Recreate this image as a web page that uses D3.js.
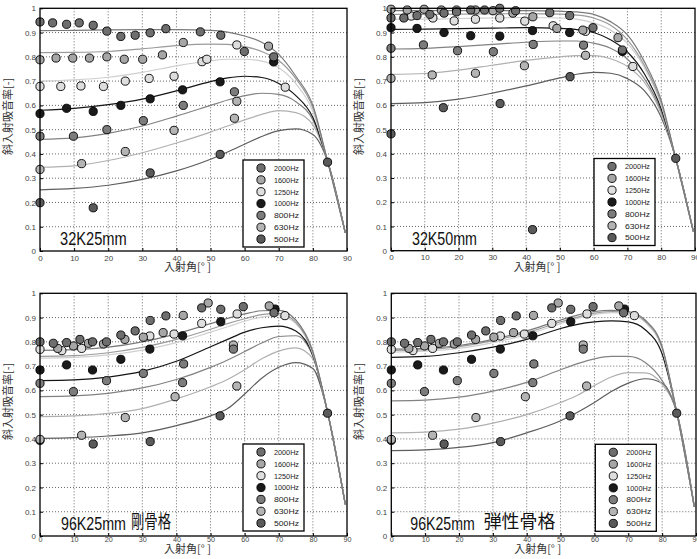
<!DOCTYPE html>
<html><head><meta charset="utf-8">
<script src="https://cdn.jsdelivr.net/npm/d3@7"></script>
<style>body{margin:0;background:#fff}svg{display:block}</style>
</head><body>
<svg id="c" width="697" height="559"></svg>
<script>
const freqs = ["2000Hz","1600Hz","1250Hz","1000Hz","800Hz","630Hz","500Hz"];
const xTicks = [0,10,20,30,40,50,60,70,80,90];
const yTicks = [0,0.1,0.2,0.3,0.4,0.5,0.6,0.7,0.8,0.9,1];
const titles = ["32K25mm","32K50mm","96K25mm 剛骨格","96K25mm 弾性骨格"];
const curveAngles = [0,10,20,30,40,50,55,60,65,70,75,80,84.3,89.5];

// model curves (value at each curveAngles entry), order = freqs
const curves32K25 = [
 [0.908,0.909,0.911,0.912,0.912,0.909,0.902,0.886,0.86,0.81,0.72,0.60,0.37,0.075],
 [0.817,0.818,0.822,0.833,0.846,0.852,0.851,0.842,0.822,0.785,0.71,0.59,0.37,0.075],
 [0.70,0.705,0.716,0.736,0.763,0.784,0.79,0.79,0.782,0.755,0.69,0.575,0.37,0.075],
 [0.58,0.588,0.603,0.626,0.66,0.698,0.713,0.72,0.715,0.69,0.64,0.55,0.37,0.075],
 [0.46,0.466,0.485,0.515,0.556,0.60,0.622,0.64,0.65,0.645,0.615,0.54,0.37,0.075],
 [0.345,0.351,0.373,0.405,0.445,0.49,0.515,0.54,0.563,0.578,0.57,0.52,0.37,0.075],
 [0.252,0.258,0.271,0.295,0.33,0.378,0.408,0.44,0.472,0.496,0.503,0.48,0.37,0.075]
];
const curves32K50 = [
 [0.99,0.99,0.99,0.99,0.99,0.988,0.985,0.975,0.945,0.89,0.78,0.62,0.38,0.08],
 [0.975,0.975,0.976,0.977,0.978,0.976,0.972,0.96,0.93,0.87,0.765,0.61,0.38,0.08],
 [0.955,0.955,0.958,0.96,0.962,0.96,0.955,0.94,0.91,0.855,0.755,0.60,0.38,0.08],
 [0.913,0.914,0.916,0.918,0.92,0.917,0.912,0.9,0.87,0.82,0.73,0.585,0.38,0.08],
 [0.832,0.835,0.842,0.851,0.86,0.865,0.865,0.856,0.835,0.79,0.71,0.575,0.38,0.08],
 [0.727,0.731,0.745,0.765,0.785,0.80,0.805,0.805,0.792,0.76,0.695,0.565,0.38,0.08],
 [0.607,0.611,0.625,0.65,0.68,0.713,0.728,0.736,0.732,0.71,0.66,0.55,0.38,0.08]
];
const curves96K25rigid = [
 [0.765,0.768,0.778,0.80,0.833,0.875,0.897,0.915,0.928,0.93,0.89,0.76,0.51,0.13],
 [0.74,0.743,0.755,0.777,0.81,0.852,0.875,0.895,0.912,0.917,0.88,0.755,0.51,0.13],
 [0.733,0.736,0.746,0.766,0.797,0.84,0.862,0.885,0.902,0.908,0.875,0.75,0.51,0.13],
 [0.64,0.643,0.655,0.678,0.72,0.78,0.81,0.84,0.858,0.865,0.845,0.745,0.51,0.13],
 [0.574,0.577,0.588,0.61,0.645,0.695,0.725,0.76,0.795,0.822,0.825,0.74,0.51,0.13],
 [0.492,0.495,0.505,0.525,0.565,0.615,0.645,0.685,0.73,0.762,0.775,0.73,0.51,0.13],
 [0.402,0.405,0.412,0.425,0.455,0.495,0.525,0.585,0.65,0.695,0.714,0.69,0.51,0.13]
];
const curves96K25elastic = [
 [0.77,0.773,0.785,0.81,0.845,0.89,0.91,0.925,0.93,0.925,0.89,0.78,0.51,0.12],
 [0.765,0.768,0.78,0.805,0.838,0.882,0.902,0.918,0.925,0.92,0.885,0.775,0.51,0.12],
 [0.758,0.762,0.773,0.797,0.83,0.875,0.897,0.912,0.92,0.915,0.88,0.77,0.51,0.12],
 [0.736,0.74,0.755,0.778,0.81,0.855,0.872,0.882,0.886,0.882,0.85,0.75,0.51,0.12],
 [0.557,0.56,0.572,0.597,0.633,0.685,0.71,0.73,0.74,0.74,0.715,0.64,0.51,0.12],
 [0.425,0.428,0.44,0.465,0.50,0.55,0.58,0.62,0.655,0.673,0.672,0.625,0.51,0.12],
 [0.352,0.355,0.365,0.385,0.425,0.475,0.51,0.55,0.595,0.63,0.648,0.63,0.51,0.12]
];

// measured points [angle, value], order = freqs
const pts32K25 = [
 [[0,0.944],[3.7,0.94],[7.8,0.934],[11.5,0.94],[15.6,0.93],[19.6,0.906],[23.7,0.884],[27.9,0.889],[32.3,0.899],[36.9,0.916],[47,0.903],[53,0.889],[59.9,0.822],[68.5,0.80]],
 [[0,0.788],[4.7,0.795],[9.6,0.795],[14.5,0.795],[19.6,0.80],[24.7,0.79],[30.1,0.79],[35.9,0.808],[42,0.859],[67,0.844]],
 [[0,0.678],[6.1,0.678],[12,0.68],[18.6,0.678],[25,0.70],[32,0.711],[39.3,0.72],[47.5,0.78],[48.9,0.79],[57.7,0.849],[71.9,0.675]],
 [[0,0.566],[7.8,0.588],[15.6,0.575],[23.7,0.60],[32.3,0.627],[41.8,0.664],[52.8,0.697],[68.5,0.779]],
 [[0,0.473],[9.8,0.473],[19.6,0.50],[30.3,0.537],[42,0.60],[57,0.656]],
 [[0,0.336],[12.2,0.36],[25,0.41],[39.3,0.497],[57,0.547],[57.7,0.617]],
 [[0,0.199],[15.6,0.178],[32.3,0.322],[52.8,0.398],[84.3,0.366]]
];
const pts32K50 = [
 [[0,0.96],[3.8,0.96],[7.7,0.97],[11.5,0.975],[15.7,0.98],[19.4,0.985],[23.6,0.993],[27.7,0.993],[32.2,1.0],[36.9,0.99],[47,0.982],[52.9,0.97],[59.8,0.92],[68.5,0.828]],
 [[0,0.996],[4.8,0.993],[9.8,0.996],[14.9,0.993],[19.4,0.993],[25,0.993],[30.2,0.99],[36.1,0.98],[42,0.965],[49.1,0.917],[56.8,0.91],[67.2,0.879]],
 [[6,0.968],[12.4,0.96],[18.7,0.948],[25,0.955],[32.2,0.96],[39.6,0.947],[48,0.928],[57.6,0.905],[71.6,0.76]],
 [[0,0.92],[7.7,0.917],[15.7,0.9],[23.6,0.887],[32.2,0.885],[41.9,0.908],[52.9,0.9],[68.5,0.822]],
 [[0,0.835],[9.6,0.849],[19.7,0.825],[30.3,0.821],[42.1,0.851],[57,0.848]],
 [[0,0.711],[12.2,0.725],[25,0.732],[39.5,0.763],[57.6,0.806]],
 [[0,0.482],[15.5,0.59],[32.3,0.607],[41.9,0.087],[53,0.718],[84.3,0.381]]
];
const pts96K25 = [
 [[0,0.80],[3.9,0.794],[7.8,0.797],[11.7,0.81],[15.4,0.80],[19.5,0.80],[23.7,0.828],[27.9,0.845],[32.3,0.888],[36.9,0.907],[47.4,0.94],[53,0.934],[59.6,0.945],[68.6,0.92]],
 [[5.2,0.773],[9.8,0.783],[14.2,0.794],[18.6,0.791],[24.9,0.81],[30.3,0.819],[36.1,0.838],[42,0.909],[49.3,0.96],[67.2,0.948]],
 [[0,0.769],[6.4,0.764],[12.2,0.773],[32.2,0.824],[39.3,0.832],[47.4,0.876],[57.8,0.915],[71.8,0.908]],
 [[0,0.684],[7.8,0.705],[15.4,0.684],[23.7,0.728],[32.2,0.77],[41.8,0.825],[53,0.883],[68.9,0.935]],
 [[0,0.629],[9.8,0.595],[19.5,0.64],[30.3,0.67],[42.1,0.709],[41.8,0.632],[56.7,0.77]],
 [[0,0.398],[12.2,0.415],[25,0.488],[39.6,0.574],[56.7,0.787],[57.7,0.618]],
 [[0,0.394],[15.6,0.379],[32.3,0.389],[52.8,0.495],[84.3,0.506]]
];

const markerFill = ["#6e6e6e","#a6a6a6","#dedede","#1a1a1a","#7c7c7c","#b4b4b4","#5a5a5a"];
const lineColor  = ["#7a7a7a","#9a9a9a","#cfcfcf","#151515","#828282","#b0b0b0","#5e5e5e"];

const panels = [
 {title:titles[0], curves:curves32K25, pts:pts32K25, l:40, r:347, t:8.3, b:251, lx:243, ly:160, yl:12, xly:271, tp:4, tf:8,
  tx:[60,66.7], cjk:null},
 {title:titles[1], curves:curves32K50, pts:pts32K50, l:391, r:695, t:8.3, b:250.7, lx:594, ly:158.5, yl:363, xly:271, tp:4, tf:8,
  tx:[412,65], cjk:null},
 {title:titles[2], curves:curves96K25rigid, pts:pts96K25, l:40, r:347, t:293.3, b:536, lx:243, ly:444, yl:12, xly:553, tp:1.2, tf:7.2,
  tx:[61,65], cjk:[131,40]},
 {title:titles[3], curves:curves96K25elastic, pts:pts96K25, l:391.3, r:696, t:293.3, b:536, lx:595.3, ly:444.3, yl:363, xly:553, tp:1.2, tf:7.2,
  tx:[410.3,64.4], cjk:[483.7,71.6]}
];

const svg = d3.select("#c");
const latin = "'Liberation Sans', Arial, sans-serif";
const cjkFont = "'Noto Sans CJK JP', sans-serif";

panels.forEach((p, pi) => {
  const x = d3.scaleLinear().domain([0,90]).range([p.l,p.r]);
  const y = d3.scaleLinear().domain([0,1]).range([p.b,p.t]);
  const g = svg.append("g");

  // grid
  g.selectAll(".gx").data(xTicks.slice(1,-1)).join("line")
    .attr("x1",d=>x(d)).attr("x2",d=>x(d)).attr("y1",p.t).attr("y2",p.b)
    .attr("stroke","#444").attr("stroke-width",0.8).attr("stroke-dasharray","1,2");
  g.selectAll(".gy").data(yTicks.slice(1,-1)).join("line")
    .attr("y1",d=>y(d)).attr("y2",d=>y(d)).attr("x1",p.l).attr("x2",p.r)
    .attr("stroke","#444").attr("stroke-width",0.8).attr("stroke-dasharray","1,2");

  // axes
  const ax = g.append("g").attr("transform",`translate(0,${p.b})`)
    .call(d3.axisBottom(x).tickValues(xTicks).tickSize(-3).tickPadding(p.tp).tickFormat(d3.format("d")));
  ax.select(".domain").remove();
  ax.selectAll("line").attr("stroke","#000");
  ax.selectAll("text").attr("font-size",p.tf).attr("fill","#444").attr("font-family",latin);
  const ay = g.append("g").attr("transform",`translate(${p.l},0)`)
    .call(d3.axisLeft(y).tickValues(yTicks).tickSize(-3).tickPadding(4).tickFormat(d=>String(+d.toFixed(1))));
  ay.select(".domain").remove();
  ay.selectAll("line").attr("stroke","#000");
  ay.selectAll("text").attr("font-size",8).attr("fill","#444").attr("font-family",latin);

  // curves
  const clipId = "clip"+pi;
  g.append("clipPath").attr("id",clipId).append("rect")
    .attr("x",p.l).attr("y",p.t).attr("width",p.r-p.l).attr("height",p.b-p.t);
  const line = d3.line().x(d=>x(d[0])).y(d=>y(d[1])).curve(d3.curveMonotoneX);
  const cg = g.append("g").attr("clip-path",`url(#${clipId})`);
  for (let i = freqs.length-1; i >= 0; i--) {
    const data = curveAngles.map((a,k)=>[a,p.curves[i][k]]);
    cg.append("path").datum(data).attr("d",line).attr("fill","none")
      .attr("stroke",lineColor[i]).attr("stroke-width",1.2);
  }
  // points
  for (let i = freqs.length-1; i >= 0; i--) {
    g.append("g").selectAll("circle").data(p.pts[i]).join("circle")
      .attr("cx",d=>x(d[0])).attr("cy",d=>y(d[1])).attr("r",4.1)
      .attr("fill",markerFill[i]).attr("stroke","#000").attr("stroke-width",0.9);
  }

  // frame
  g.append("rect").attr("x",p.l).attr("y",p.t).attr("width",p.r-p.l).attr("height",p.b-p.t)
    .attr("fill","none").attr("stroke","#000").attr("stroke-width",1.3);

  // legend
  const lg = g.append("g").attr("transform",`translate(${p.lx},${p.ly})`);
  lg.append("rect").attr("width",61).attr("height",87).attr("fill","#fff")
    .attr("stroke","#000").attr("stroke-width",1.3);
  freqs.forEach((f,i)=>{
    lg.append("circle").attr("cx",18).attr("cy",8+i*11.85).attr("r",4.1)
      .attr("fill",markerFill[i]).attr("stroke","#000").attr("stroke-width",0.9);
    lg.append("text").attr("x",31).attr("y",8+i*11.85+2.8).text(f)
      .attr("font-size",7.5).attr("fill","#222").attr("font-family",latin)
      .attr("textLength",25).attr("lengthAdjust","spacingAndGlyphs");
  });

  // axis labels
  g.append("text").attr("transform",`translate(${p.yl},${p.t+108}) rotate(-90)`)
    .attr("text-anchor","middle").attr("font-size",11).attr("fill","#333")
    .attr("font-family",cjkFont).text("斜入射吸音率[-]");
  g.append("text").attr("x",(p.l+p.r)/2-6).attr("y",p.xly)
    .attr("text-anchor","middle").attr("font-size",11).attr("fill","#333")
    .attr("font-family",cjkFont).text("入射角[° ]");

  // title
  const parts = p.title.split(" ");
  g.append("text").attr("x",p.tx[0]).attr("y",p.b-6).text(parts[0])
    .attr("font-size",19).attr("fill","#111").attr("font-family",latin)
    .attr("textLength",p.tx[1]).attr("lengthAdjust","spacingAndGlyphs");
  if (p.cjk) {
    g.append("text").attr("x",p.cjk[0]).attr("y",p.b-8).text(parts[1])
      .attr("font-size",18).attr("fill","#111").attr("font-family",cjkFont)
      .attr("textLength",p.cjk[1]).attr("lengthAdjust","spacingAndGlyphs");
  }
});
</script>
</body></html>
